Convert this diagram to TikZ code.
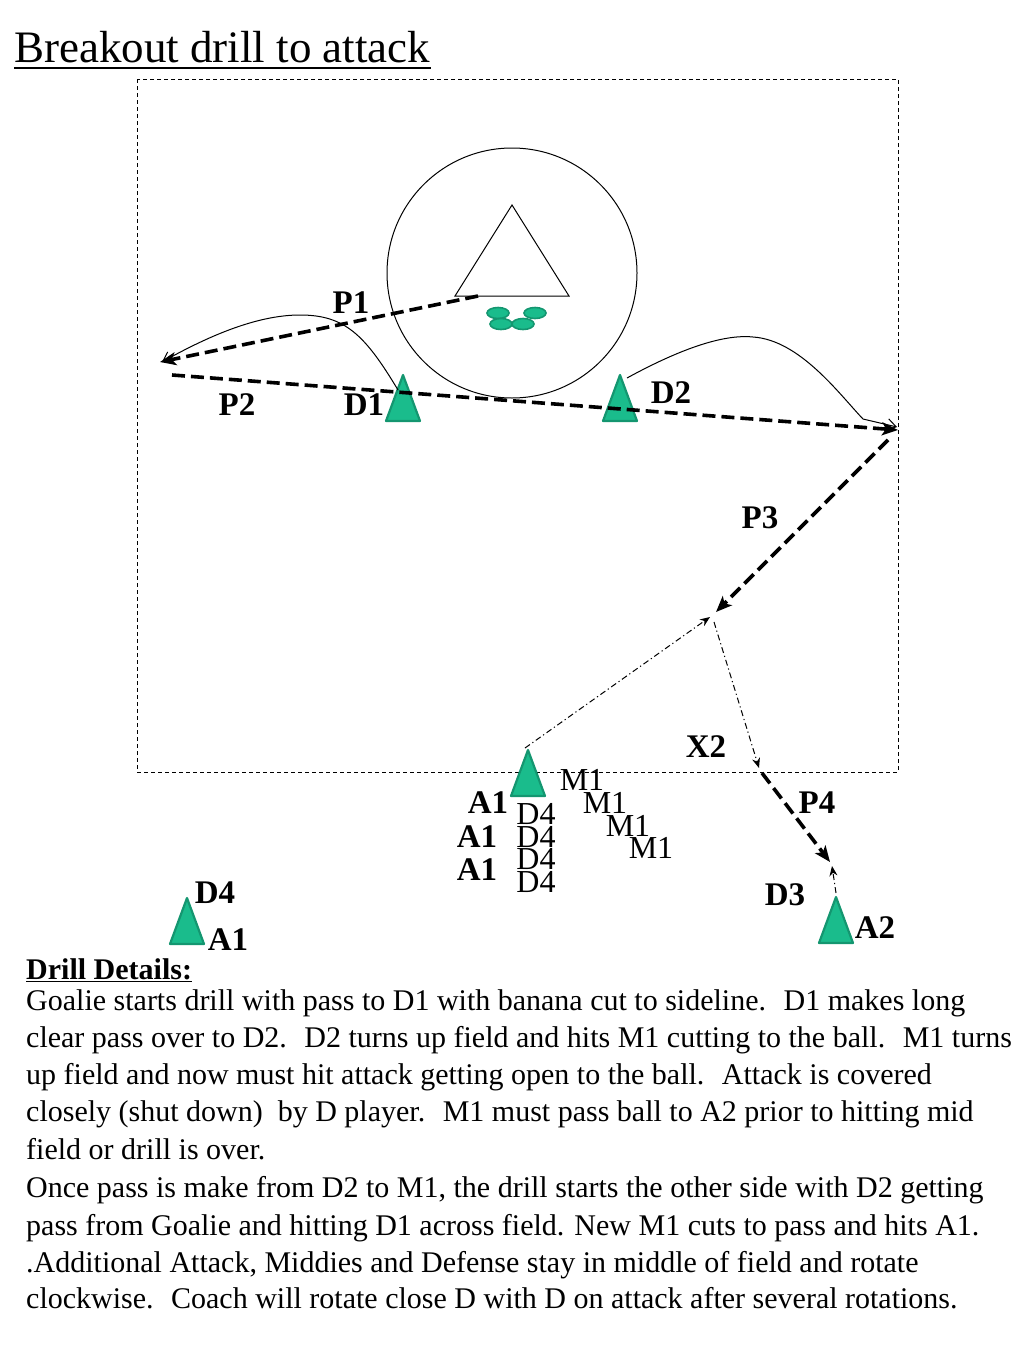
\documentclass[tikz,border=0pt]{standalone}
\usepackage{fontspec}
\setmainfont{Liberation Serif}
\usetikzlibrary{arrows.meta,shapes.geometric}
\definecolor{pfill}{RGB}{26,188,140}
\definecolor{pdraw}{RGB}{20,150,112}
\tikzset{
  field/.style={draw=black,line width=1pt,dash pattern=on 4pt off 3pt},
  pass/.style={draw=black,line width=3.6pt,dash pattern=on 13pt off 6pt,-{Stealth[length=16pt,width=13pt,inset=4pt]}},
  cut/.style={draw=black,line width=1pt,-{Straight Barb[length=9pt,width=12pt]}},
  run/.style={draw=black,line width=1pt,dash pattern=on 6pt off 3pt on 1.2pt off 3pt,-{Stealth[length=10pt,width=8pt]}},
  playertri/.style={fill=pfill,draw=pdraw,line width=2.2pt,line join=round},
  lab/.style={font=\fontsize{33}{40}\selectfont\bfseries,inner sep=0pt,anchor=base},
  rlab/.style={font=\fontsize{32}{38}\selectfont,inner sep=0pt,anchor=base},
  body/.style={font=\fontsize{30}{37}\selectfont,inner sep=0pt,anchor=base west},
  ball/.style={fill=pfill,draw=pdraw,line width=1.6pt},
  player/.pic={\path[playertri] (-17,23) -- (0,-23) -- (17,23) -- cycle;}
}
\begin{document}
\begin{tikzpicture}[x=1pt,y=-1pt]
\useasboundingbox (0,0) rectangle (1024,1365);
% title
\node[font=\fontsize{45}{54}\selectfont,inner sep=0pt,anchor=base west] (title) at (14,62) {Breakout drill to attack};
\draw[line width=2pt] (title.base west) ++(0,6) coordinate (ul1) -- (title.base east |- ul1);
% field
\draw[field] (137,79) rectangle (898,772);
% goal crease and goal
\node[draw,circle,line width=1pt,minimum size=250pt,inner sep=0pt] (crease) at (512,273) {};
\draw[line width=1pt] (455,296) coordinate (g1) -- (512,205) coordinate (g2) -- (569,296) coordinate (g3) -- cycle;
% balls
\foreach \bx/\by [count=\i] in {498/313,535/313,501/324,523/324}
  \node[ball,ellipse,minimum width=22pt,minimum height=11pt,inner sep=0pt] (ball\i) at (\bx,\by) {};
% players
\coordinate (D1) at (403,398);
\coordinate (D2) at (620,398);
\coordinate (M1) at (528,773);
\coordinate (BL) at (187,921);
\coordinate (A2p) at (836,920);
\foreach \p in {D1,D2,M1,BL,A2p} \pic at (\p) {player};
% path coordinates
\coordinate (p1s) at (478,296);
\coordinate (p1e) at (160,362);
\coordinate (p2s) at (172,375);
\coordinate (p2e) at (898,430);
\coordinate (p3s) at (888,440);
\coordinate (p3e) at (716,612);
\coordinate (x1s) at (525,748);
\coordinate (x1e) at (710,617);
\coordinate (x2s) at (714,622);
\coordinate (x2e) at (759,768);
\coordinate (p4s) at (762,773);
\coordinate (p4e) at (830,862);
\coordinate (x3s) at (836,893);
\coordinate (x3e) at (832,866);
\coordinate (b1s) at (398,390);
\coordinate (b1m) at (300,315);
\coordinate (b1e) at (162,362);
\coordinate (b2s) at (627,378);
\coordinate (b2m) at (753,337);
\coordinate (b2k) at (863,419);
\coordinate (b2e) at (897,427);
% banana cuts
\draw[cut] (b1s) .. controls (365,335) and (345,315) .. (b1m) .. controls (255,315) and (205,338) .. (b1e);
\draw[cut] (b2s) .. controls (660,360) and (715,333) .. (b2m) .. controls (800,340) and (840,395) .. (b2k) -- (b2e);
% passes
\draw[pass] (p1s) -- (p1e);
\draw[pass] (p2s) -- (p2e);
\draw[pass] (p3s) -- (p3e);
\draw[pass] (p4s) -- (p4e);
% runs
\draw[run] (x1s) -- (x1e);
\draw[run] (x2s) -- (x2e);
\draw[run] (x3s) -- (x3e);
% labels
\node[lab] (lP1) at (351,313) {P1};
\node[lab] (lP2) at (237,415) {P2};
\node[lab] (lD1) at (364,415) {D1};
\node[lab] (lD2) at (671,403) {D2};
\node[lab] (lP3) at (760,528) {P3};
\node[lab] (lX2) at (706,757) {X2};
\node[lab] (lP4) at (817,813) {P4};
\node[lab] (lD3) at (785,905) {D3};
\node[lab] (lA2) at (875,938) {A2};
\node[lab] (lD4b) at (215,903) {D4};
\node[lab] (lA1b) at (228,950) {A1};
\node[rlab] (m1a) at (582,790) {M1};
\node[rlab] (m1b) at (605,813) {M1};
\node[rlab] (m1c) at (628,836) {M1};
\node[rlab] (m1d) at (651,858) {M1};
\node[lab] (a1a) at (488,813) {A1};
\node[lab] (a1b) at (477,847) {A1};
\node[lab] (a1c) at (477,880) {A1};
\node[rlab] (d4a) at (536,824) {D4};
\node[rlab] (d4b) at (536,847) {D4};
\node[rlab] (d4c) at (536,869) {D4};
\node[rlab] (d4d) at (536,892) {D4};
% text
\node[body,font=\fontsize{30}{37}\selectfont\bfseries] (hd) at (26,979) {\underline{Drill Details:}};
\node[body] (t1) at (26,1010) {Goalie starts drill with pass to D1 with banana cut to sideline.~ D1 makes long};
\node[body] (t2) at (26,1047) {clear pass over to D2.~ D2 turns up field and hits M1 cutting to the ball.~ M1 turns};
\node[body] (t3) at (26,1084) {up field and now must hit attack getting open to the ball.~ Attack is covered};
\node[body] (t4) at (26,1121) {closely (shut down)~ by D player.~ M1 must pass ball to A2 prior to hitting mid};
\node[body] (t5) at (26,1159) {field or drill is over.};
\node[body] (t6) at (26,1197) {Once pass is make from D2 to M1, the drill starts the other side with D2 getting};
\node[body] (t7) at (26,1235) {pass from Goalie and hitting D1 across field. New M1 cuts to pass and hits A1.};
\node[body] (t8) at (26,1272) {.Additional Attack, Middies and Defense stay in middle of field and rotate};
\node[body] (t9) at (26,1308) {clockwise.~ Coach will rotate close D with D on attack after several rotations.};
\end{tikzpicture}
\end{document}
